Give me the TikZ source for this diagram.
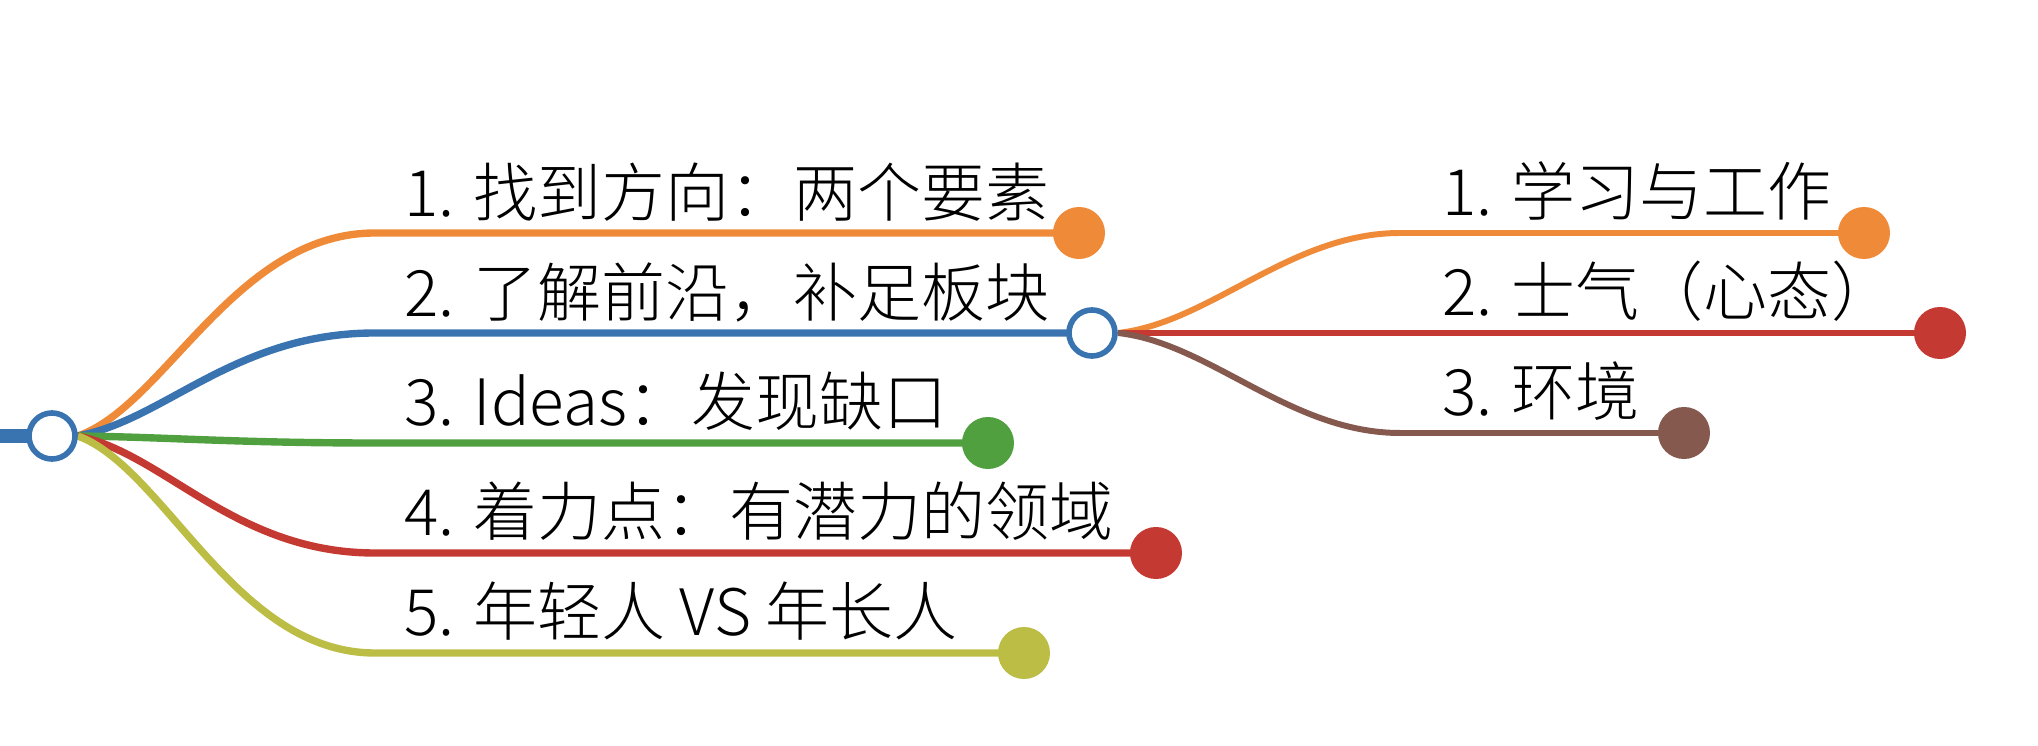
\documentclass[tikz,border=0pt]{standalone}
\usepackage{fontspec}
\IfFontExistsTF{Noto Sans CJK SC Light}
	{\newfontfamily\cjk{Noto Sans CJK SC Light}}
	{\newfontfamily\cjk{Noto Sans CJK SC}}
\usetikzlibrary{backgrounds}
\definecolor{mOrange}{HTML}{EF8A38}
\definecolor{mBlue}{HTML}{3A74B0}
\definecolor{mGreen}{HTML}{50A040}
\definecolor{mRed}{HTML}{C43A32}
\definecolor{mOlive}{HTML}{BCBD44}
\definecolor{mBrown}{HTML}{85594E}
\tikzset{
	hub/.style={circle, draw=mBlue, fill=white, line width=1.6pt, minimum size=0.46cm, inner sep=0pt},
	tip/.style={circle, fill=#1, minimum size=0.52cm, inner sep=0pt},
	branch/.style={draw=#1, line width=2.1pt},
	twig/.style={draw=#1, line width=1.7pt},
	lbl/.style={anchor=base west, inner sep=0pt, font=\cjk\fontsize{18.2pt}{21pt}\selectfont},
}

\begin{document}
\begin{tikzpicture}[x=0.01cm, y=-0.01cm]
			\useasboundingbox (0,0) rectangle (2038,746);
			\node[hub](R) at (52, 436){};
			\node[hub](S) at (1092, 333){};
			\node[tip=mOrange](D1) at (1079, 233){};
			\node[tip=mGreen](D3) at (988, 443){};
			\node[tip=mRed](D4) at (1156, 553){};
			\node[tip=mOlive](D5) at (1024, 653){};
			\node[tip=mOrange](E1) at (1864, 233){};
			\node[tip=mRed](E2) at (1940, 333){};
			\node[tip=mBrown](E3) at (1684, 433){};
			\node[lbl](L1) at (404, 217){1. 找到方向：两个要素};
			\node[lbl](L2) at (404, 317){2. 了解前沿，补足板块};
			\node[lbl](L3) at (404, 426){3. Ideas：发现缺口};
			\node[lbl](L4) at (404, 536){4. 着力点：有潜力的领域};
			\node[lbl](L5) at (404, 636){5. 年轻人 VS 年长人};
			\node[lbl](M1) at (1442, 216){1. 学习与工作};
			\node[lbl](M2) at (1442, 316){2. 士气（心态）};
			\node[lbl](M3) at (1442, 416){3. 环境};
			\begin{scope}[on background layer]
			\draw[mBlue, line width=4pt] (0, 436) -- (R.center);
			\draw[branch=mOrange] (R.east) .. controls (165, 406) and (235, 233) .. (375, 233) -- (D1.center);
			\draw[branch=mBlue] (R.east) .. controls (165, 420) and (235, 333) .. (375, 333) -- (S.center);
			\draw[branch=mGreen] (R.east) .. controls (165, 437) and (235, 443) .. (375, 443) -- (D3.center);
			\draw[branch=mRed] (R.east) .. controls (165, 454) and (235, 553) .. (375, 553) -- (D4.center);
			\draw[branch=mOlive] (R.east) .. controls (165, 468) and (235, 653) .. (375, 653) -- (D5.center);
			\draw[twig=mOrange] (S.east) .. controls (1210, 323) and (1290, 233) .. (1400, 233) -- (E1.center);
			\draw[twig=mRed] (S.east) -- (E2.center);
			\draw[twig=mBrown] (S.east) .. controls (1210, 343) and (1290, 433) .. (1400, 433) -- (E3.center);
			\end{scope}
		\end{tikzpicture}
\end{document}
